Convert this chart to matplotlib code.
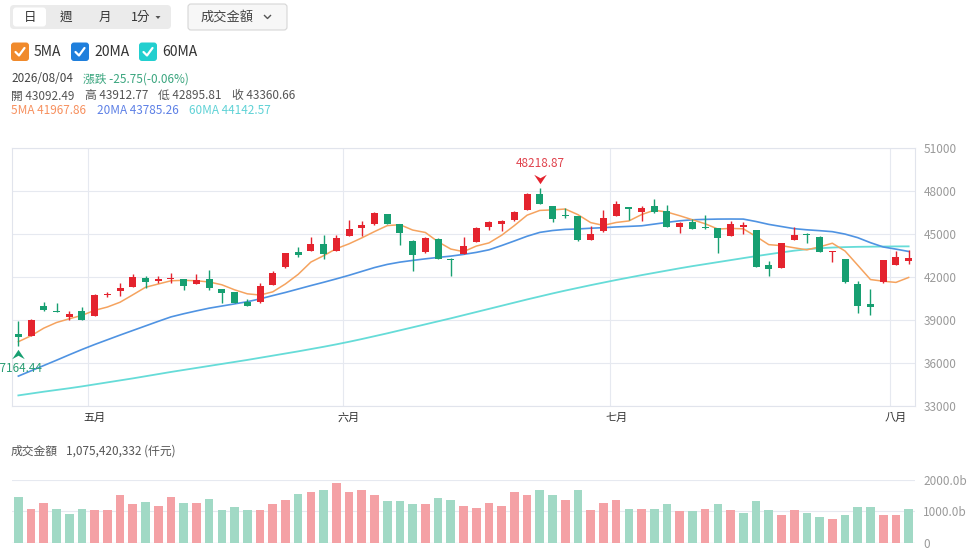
import matplotlib.pyplot as plt
import numpy as np
from matplotlib.patches import FancyBboxPatch, Polygon
from matplotlib.path import Path
from matplotlib.transforms import offset_copy

plt.rcParams['font.family'] = ['Noto Sans CJK TC', 'DejaVu Sans']

# daily OHLC, 71 sessions ending 2026/08/04
opens = [38031, 37892, 39951, 39627, 39234, 39604, 39280, 40737, 41015, 41292,
         41940, 41755, 41848, 41848, 41524, 41894, 41140, 40920, 40218, 40218,
         41440, 42670, 43750, 43840, 44283, 43853, 44872, 45405, 45683, 46401,
         45683, 44548, 43714, 44640, 43250, 43590, 44455, 45498, 45706, 45961,
         46679, 47815, 46957, 46355, 46239, 44594, 45196, 46262, 46865, 46563,
         46934, 46587, 45521, 45868, 45521, 45405, 44872, 45521, 45266, 42810,
         42648, 44571, 45034, 44826, 43714, 43273, 41512, 40099, 41630, 42856,
         43092.49]
highs = [38956, 39050, 40228, 40159, 39604, 39904, 40780, 40945, 41593, 42194,
         42056, 42056, 42264, 41870, 42241, 42472, 41160, 40930, 40428, 41593,
         42410, 43700, 44120, 44830, 44956, 44918, 45961, 45938, 46540, 46420,
         45700, 44560, 44800, 44700, 43320, 44800, 45480, 45914, 45960, 46590,
         47884, 48218.87, 46980, 46795, 46280, 45544, 46656, 47305, 46880, 46957,
         47421, 47004, 45820, 46054, 46355, 45420, 45892, 45868, 45280, 43134,
         44380, 45475, 45104, 44840, 43830, 43290, 41697, 41165, 43200, 43806,
         43912.77]
lows = [37164.44, 37870, 39650, 39520, 39002, 38960, 39260, 40598, 40668, 41280,
        41200, 41593, 41547, 41061, 41510, 41084, 40180, 40190, 39939, 40200,
        41420, 42650, 43375, 43820, 43250, 43840, 44860, 44872, 45670, 45690,
        44246, 42439, 43700, 43240, 42045, 43575, 44440, 45312, 45196, 45950,
        46660, 47100, 45868, 46146, 44501, 44580, 45180, 46250, 45984, 45915,
        46494, 45480, 45104, 45350, 45335, 43713, 44860, 45011, 42680, 42068,
        42630, 44560, 44362, 43720, 43065, 41610, 39452, 39335, 41610, 42840,
        42895.81]
closes = [37777, 39002, 39673, 39534, 39396, 38979, 40760, 40830, 41223, 41986,
          41616, 41894, 41963, 41385, 41824, 41200, 40910, 40200, 39985, 41400,
          42310, 43680, 43550, 44283, 43632, 44756, 45382, 45614, 46494, 45706,
          45104, 43505, 44756, 43250, 43157, 44190, 45451, 45868, 45938, 46540,
          47815, 47120, 46054, 46239, 44571, 45034, 46146, 47073, 46772, 46795,
          46563, 45498, 45799, 45360, 45400, 44710, 45720, 45660, 42694, 42532,
          44362, 44965, 44942, 43737, 43806, 41630, 40000, 39935.23, 43157, 43386.41,
          43360.66]
# closes of the four sessions before the window (needed for the 5MA)
prev_closes = [36917, 37013, 37569, 38099]

ma20 = [35070, 35440, 35810, 36180, 36560, 36930, 37280, 37610, 37940, 38260,
        38580, 38900, 39210, 39430, 39630, 39820, 39970, 40120, 40270, 40470,
        40700, 40920, 41160, 41400, 41630, 41870, 42120, 42390, 42660, 42880,
        43040, 43160, 43270, 43370, 43460, 43580, 43720, 43900, 44200, 44520,
        44850, 45120, 45250, 45330, 45360, 45410, 45450, 45500, 45540, 45580,
        45700, 45820, 45930, 46000, 46030, 46050, 46055, 46050, 45880, 45680,
        45530, 45380, 45300, 45240, 45170, 45000, 44750, 44400, 44100, 43950,
        43785.26]
ma60 = [33720, 33850, 33980, 34100, 34220, 34350, 34490, 34630, 34770, 34910,
        35060, 35210, 35360, 35500, 35640, 35780, 35920, 36060, 36200, 36350,
        36500, 36650, 36800, 36960, 37120, 37290, 37470, 37660, 37860, 38060,
        38270, 38480, 38690, 38900, 39110, 39330, 39550, 39770, 39990, 40210,
        40430, 40640, 40850, 41050, 41240, 41430, 41610, 41790, 41960, 42130,
        42290, 42450, 42610, 42760, 42900, 43040, 43180, 43320, 43460, 43590,
        43720, 43840, 43940, 44010, 44060, 44090, 44110, 44120, 44130, 44140,
        44142.57]

# turnover, billions
volumes = [1468, 1085, 1255, 1064, 915, 1085, 1053, 1053, 1521, 1245,
           1309, 1170, 1447, 1266, 1277, 1383, 1043, 1149, 1032, 1053,
           1234, 1362, 1543, 1628, 1670, 1915, 1606, 1691, 1511, 1330,
           1330, 1223, 1223, 1426, 1351, 1170, 1117, 1266, 1160, 1606,
           1511, 1670, 1532, 1372, 1670, 1043, 1266, 1372, 1085, 1074,
           1064, 1234, 1011, 1000, 1074, 1245, 1032, 936, 1340, 1043,
           872, 1032, 936, 830, 755, 872, 1149, 1149, 894, 894, 1075.42]
last_turnover = 1075420332  # 仟元

month_labels = ['五月', '六月', '七月', '八月']
month_start = [6, 26, 47, 69]
price_ticks = [33000, 36000, 39000, 42000, 45000, 48000, 51000]
vol_ticks = [0, 1000, 2000]
vol_tick_labels = ['0', '1000.0b', '2000.0b']

RED = '#e4232e'
GREEN = '#179f71'
RED_L = '#f4a1a5'
GREEN_L = '#a1d9c5'
C5, C20, C60 = '#f5a35f', '#4f93e2', '#66dcd8'
GRID = '#e6e9f0'

o = np.array(opens); h = np.array(highs); l = np.array(lows); c = np.array(closes)
n = len(c)
x = np.arange(n)
allc = np.concatenate([prev_closes, c])
ma5 = np.convolve(allc, np.ones(5) / 5, mode='valid')
prev = allc[3:-1]

W, H = 980, 558
fig = plt.figure(figsize=(W / 100, H / 100), dpi=100)

def rect(x0, y0, x1, y1):
    return [x0 / W, 1 - y1 / H, (x1 - x0) / W, (y1 - y0) / H]

# ---- header (pixel coords) ----
hd = fig.add_axes([0, 0, 1, 1])
hd.set_xlim(0, W); hd.set_ylim(H, 0); hd.axis('off')

hd.add_patch(FancyBboxPatch((10, 5), 161, 24, boxstyle='round,pad=0,rounding_size=4',
                            fc='#ebebeb', ec='none'))
hd.add_patch(FancyBboxPatch((13, 7.5), 33, 19, boxstyle='round,pad=0,rounding_size=3',
                            fc='white', ec='none'))
for s, px in zip(['日', '週', '月', '1分'], [30, 66, 105, 141]):
    hd.text(px, 17, s, ha='center', va='center', fontsize=9, color='#333333')
hd.add_patch(Polygon([(155.5, 16), (160.5, 16), (158, 19)], fc='#555555', ec='none'))

hd.add_patch(FancyBboxPatch((188, 4), 99, 26, boxstyle='round,pad=0,rounding_size=3',
                            fc='#f7f7f7', ec='#d6d6d6', lw=0.8))
hd.text(227, 17, '成交金額', ha='center', va='center', fontsize=9.5, color='#444444')
hd.plot([264.5, 267.5, 270.5], [15.5, 18.5, 15.5], color='#555555', lw=1)

for bx, col, lab in [(11, '#f08a2c', '5MA'), (71, '#1f7fdc', '20MA'), (139, '#22cfcf', '60MA')]:
    hd.add_patch(FancyBboxPatch((bx, 42.5), 18, 18.5, boxstyle='round,pad=0,rounding_size=3',
                                fc=col, ec='none'))
    hd.plot([bx + 4.5, bx + 8, bx + 13.5], [52, 55.5, 48], color='white', lw=1.6,
            solid_capstyle='round', solid_joinstyle='round')
    hd.text(bx + 23, 52, lab, va='center', fontsize=10, color='#333333')

fs = 8.5
hd.text(11, 79, '2026/08/04', va='center', fontsize=fs, color='#444444')
chg = c[-1] - c[-2]
hd.text(83, 79, f'漲跌 {chg:.2f}({chg / c[-2] * 100:.2f}%)', va='center', fontsize=fs,
        color='#3aa57e')
for px, lab, val in [(11, '開', o[-1]), (85, '高', h[-1]), (158, '低', l[-1]), (232, '收', c[-1])]:
    hd.text(px, 96, f'{lab} {val:.2f}', va='center', fontsize=fs, color='#555555')
for px, lab, val, col in [(11, '5MA', ma5[-1], '#f7905e'), (97, '20MA', ma20[-1], '#5d80e6'),
                          (189, '60MA', ma60[-1], '#5fd2d6')]:
    hd.text(px, 111, f'{lab} {val:.2f}', va='center', fontsize=fs, color=col)

hd.text(11, 451, '成交金額', va='center', fontsize=fs, color='#555555')
hd.text(66, 451, f'{last_turnover:,} (仟元)', va='center', fontsize=fs, color='#555555')

# ---- price panel ----
ax = fig.add_axes(rect(12, 148.3, 915, 405.7))
ax.set_xlim(-0.5, n - 0.5)
ax.set_ylim(33000, 51000)
ax.set_yticks(price_ticks)
ax.yaxis.tick_right()
ax.tick_params(axis='y', length=0, pad=6, labelsize=8.5, labelcolor='#9a9a9a')
ax.set_xticks(month_start)
ax.set_xticklabels(month_labels)
ax.tick_params(axis='x', length=0, pad=5, labelsize=8, labelcolor='#333333')
ax.grid(axis='y', color=GRID, lw=0.8)
ax.set_axisbelow(True)
for m in month_start:
    ax.axvline(m - 0.5, color=GRID, lw=0.8, zorder=0)
for sp in ax.spines.values():
    sp.set_color('#e1e4ec'); sp.set_linewidth(0.8)

ax.plot(x, ma60, color=C60, lw=1.3, zorder=2)
ax.plot(x, ma20, color=C20, lw=1.2, zorder=2)
ax.plot(x, ma5, color=C5, lw=1.1, zorder=2)

up = c >= o
col = np.where(up, RED, GREEN)
ax.vlines(x, l, h, colors=col, lw=1, zorder=3)
body = np.maximum(np.abs(c - o), 45)
ax.bar(x, body, bottom=np.minimum(o, c), width=0.55, color=col, zorder=4)

# max / min markers
imax = int(np.argmax(h)); imin = int(np.argmin(l))
arrow_dn = Path([(-1, 0.75), (0, 0.2), (1, 0.75), (0, -0.75), (-1, 0.75)],
                [Path.MOVETO, Path.LINETO, Path.LINETO, Path.LINETO, Path.CLOSEPOLY])
arrow_up = Path([(-1, -0.75), (0, -0.2), (1, -0.75), (0, 0.75), (-1, -0.75)],
                [Path.MOVETO, Path.LINETO, Path.LINETO, Path.LINETO, Path.CLOSEPOLY])
ax.plot(imax, h[imax], marker=arrow_dn, ms=9, color=RED, mec='none', clip_on=False, zorder=5,
        transform=offset_copy(ax.transData, fig=fig, y=9.5, units='dots'))
ax.annotate(f'{h[imax]:.2f}', (imax, h[imax]), xytext=(0, 25), textcoords='offset pixels',
            ha='center', va='center', fontsize=8.5, color='#e0434d', annotation_clip=False)
ax.plot(imin, l[imin], marker=arrow_up, ms=9, color=GREEN, mec='none', clip_on=False, zorder=5,
        transform=offset_copy(ax.transData, fig=fig, y=-7.5, units='dots'))
ax.annotate(f'{l[imin]:.2f}', (imin, l[imin]), xytext=(0, -22), textcoords='offset pixels',
            ha='center', va='center', fontsize=8.5, color='#2a9d74', annotation_clip=False)

# ---- turnover panel ----
av = fig.add_axes(rect(12, 480, 915, 542.7))
av.set_xlim(-0.5, n - 0.5)
av.set_ylim(0, 2000)
vcol = np.where(c >= prev, RED_L, GREEN_L)
av.bar(x, volumes, width=0.68, color=vcol, zorder=2)
av.set_yticks(vol_ticks)
av.set_yticklabels(vol_tick_labels)
av.yaxis.tick_right()
av.tick_params(axis='y', length=0, pad=6, labelsize=8.5, labelcolor='#9a9a9a')
av.set_xticks([])
av.grid(axis='y', color=GRID, lw=0.8)
av.set_axisbelow(True)
for sp in av.spines.values():
    sp.set_visible(False)
av.axhline(0, color='#e1e4ec', lw=0.9, zorder=1)

fig.savefig('out.png', dpi=100)
